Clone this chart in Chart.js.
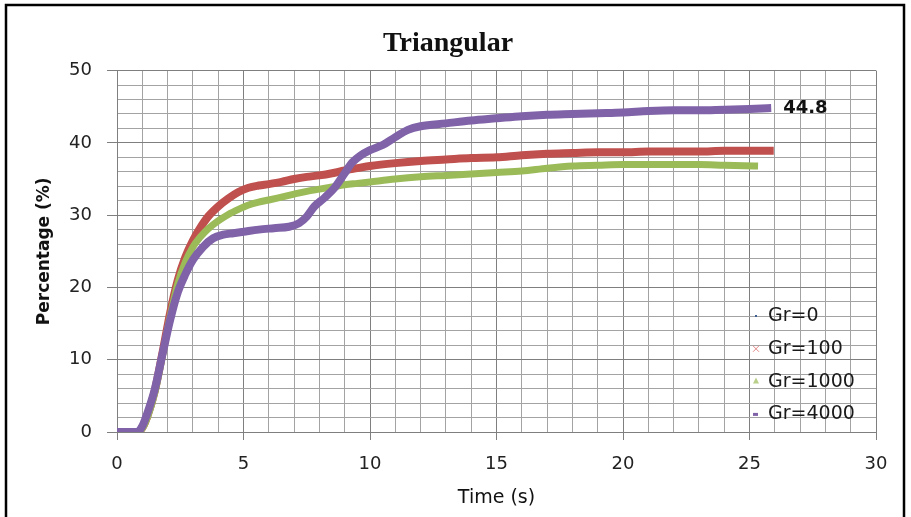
<!DOCTYPE html>
<html>
<head>
<meta charset="utf-8">
<script src="https://cdn.jsdelivr.net/npm/chart.js@4/dist/chart.umd.min.js"></script>
<style>
  body { margin: 0; background: #fff; }
  #wrap { width: 911px; height: 517px; position: relative; }
</style>
</head>
<body>
<div id="wrap"><canvas id="triangular" width="911" height="517"></canvas></div>
<script>
var seriesNames = ["Gr=0", "Gr=100", "Gr=1000", "Gr=4000"];
var seriesColors = ["#3d5f8f", "#c0504d", "#9bbb59", "#7f62a8"];

var timeGr0 = [0, 0.4, 0.8, 1.0, 1.2, 1.5, 1.8, 2.1, 2.4, 2.7, 3.0, 3.3, 3.6, 4.0, 4.4, 4.8, 5.2, 5.6, 6.0, 6.5, 7.0, 7.5, 8.0, 8.5, 9.0, 9.5, 10.0, 11.0, 12.0, 13.0, 14.0, 15.0, 16.0, 17.0, 18.0, 19.0, 20.0, 21.0, 22.0, 23.0, 24.0, 25.0, 25.8];
var valGr0 = [0, 0, 0, 0.7, 2.5, 6.2, 11.5, 17.0, 21.5, 24.6, 26.8, 28.5, 29.9, 31.2, 32.2, 33.0, 33.6, 34.0, 34.2, 34.5, 34.9, 35.2, 35.4, 35.7, 36.1, 36.4, 36.7, 37.1, 37.4, 37.6, 37.8, 38.0, 38.2, 38.4, 38.5, 38.6, 38.7, 38.7, 38.8, 38.8, 38.8, 38.9, 38.9];

var timeGr100 = [0, 0.4, 0.8, 1.0, 1.2, 1.5, 1.8, 2.1, 2.4, 2.7, 3.0, 3.3, 3.6, 4.0, 4.4, 4.8, 5.2, 5.6, 6.0, 6.5, 7.0, 7.5, 8.0, 8.5, 9.0, 9.5, 10.0, 11.0, 12.0, 13.0, 14.0, 15.0, 16.0, 17.0, 18.0, 19.0, 20.0, 21.0, 22.0, 23.0, 24.0, 25.0, 25.8];
var valGr100 = [0, 0, 0, 0.6, 2.2, 5.8, 11.0, 16.5, 21.0, 24.2, 26.5, 28.3, 29.8, 31.2, 32.3, 33.2, 33.8, 34.1, 34.3, 34.6, 35.0, 35.3, 35.5, 35.8, 36.2, 36.5, 36.8, 37.2, 37.5, 37.7, 37.9, 38.0, 38.3, 38.5, 38.6, 38.7, 38.7, 38.8, 38.8, 38.8, 38.9, 38.9, 38.9];

var timeGr1000 = [0, 0.4, 0.8, 1.0, 1.2, 1.5, 1.8, 2.1, 2.4, 2.7, 3.0, 3.3, 3.6, 4.0, 4.4, 4.8, 5.2, 5.6, 6.0, 6.5, 7.0, 7.5, 8.0, 8.5, 9.0, 9.5, 10.0, 11.0, 12.0, 13.0, 14.0, 15.0, 16.0, 17.0, 18.0, 19.0, 20.0, 21.0, 22.0, 23.0, 24.0, 25.2];
var valGr1000 = [0, 0, 0, 0.5, 2.0, 5.5, 10.6, 16.0, 20.5, 23.5, 25.6, 27.0, 28.1, 29.2, 30.1, 30.8, 31.4, 31.8, 32.1, 32.5, 32.9, 33.3, 33.6, 33.9, 34.2, 34.4, 34.6, 35.0, 35.3, 35.5, 35.7, 35.9, 36.1, 36.5, 36.8, 36.9, 37.0, 37.0, 37.0, 37.0, 36.9, 36.8];

var timeGr4000 = [0, 0.4, 0.8, 1.0, 1.2, 1.5, 1.8, 2.1, 2.4, 2.7, 3.0, 3.4, 3.8, 4.2, 4.6, 5.0, 5.6, 6.2, 6.8, 7.2, 7.5, 7.8, 8.2, 8.6, 9.0, 9.3, 9.6, 10.0, 10.5, 11.0, 11.5, 12.0, 13.0, 14.0, 15.0, 16.0, 17.0, 18.0, 19.0, 20.0, 21.0, 22.0, 23.0, 24.0, 25.0, 25.7];
var valGr4000 = [0, 0, 0, 0.8, 2.6, 6.0, 10.8, 15.5, 19.3, 21.8, 23.8, 25.6, 26.8, 27.3, 27.5, 27.7, 28.0, 28.2, 28.4, 28.9, 29.8, 31.2, 32.4, 33.8, 35.8, 37.3, 38.2, 39.0, 39.7, 40.8, 41.8, 42.3, 42.7, 43.1, 43.4, 43.7, 43.9, 44.0, 44.1, 44.2, 44.4, 44.5, 44.5, 44.6, 44.7, 44.8];

var endLabel = "44.8";

function toPoints(ts, vs) {
    var pts = [];
    for (var i = 0; i < ts.length; i++) pts.push({ x: ts[i], y: vs[i] });
    return pts;
}

function makeSet(idx, ts, vs, width, order) {
    return {
        label: seriesNames[idx],
        data: toPoints(ts, vs),
        borderColor: seriesColors[idx],
        backgroundColor: seriesColors[idx],
        borderWidth: width,
        pointRadius: 0,
        cubicInterpolationMode: "monotone",
        borderCapStyle: "square",
        order: order
    };
}

var majorGrid = "#7f7f7f";
var minorGrid = "#a3a3a3";

// outer frame, legend drawn inside the plot, end value label
var extras = {
    id: "extras",
    afterDraw: function(chart) {
        var ctx = chart.ctx;
        ctx.save();
        ctx.strokeStyle = "#000";
        ctx.lineWidth = 2.5;
        ctx.strokeRect(6, 5, 898, 530);

        var purple = chart.getDatasetMeta(3).data;
        var last = purple[purple.length - 1];
        ctx.fillStyle = "#111";
        ctx.font = "bold 18px 'DejaVu Sans'";
        ctx.textBaseline = "middle";
        ctx.textAlign = "left";
        ctx.fillText(endLabel, last.x + 16, last.y);

        var lx = 756, ly = 316, step = 32.8;
        ctx.font = "19px 'DejaVu Sans'";
        for (var i = 0; i < seriesNames.length; i++) {
            var y = ly + i * step;
            ctx.fillStyle = seriesColors[i];
            ctx.strokeStyle = seriesColors[i];
            if (i == 0) {
                ctx.fillRect(lx - 1, y - 1, 2, 2);
            } else if (i == 1) {
                ctx.lineWidth = 1;
                ctx.strokeStyle = "#e28a88";
                ctx.beginPath();
                ctx.moveTo(lx - 3, y - 3); ctx.lineTo(lx + 3, y + 3);
                ctx.moveTo(lx + 3, y - 3); ctx.lineTo(lx - 3, y + 3);
                ctx.stroke();
            } else if (i == 2) {
                ctx.fillStyle = "#b9cf8a";
                ctx.beginPath();
                ctx.moveTo(lx, y - 4); ctx.lineTo(lx + 3, y + 2); ctx.lineTo(lx - 3, y + 2);
                ctx.closePath();
                ctx.fill();
            } else {
                ctx.fillRect(lx - 3, y - 1.5, 5, 3);
            }
            ctx.fillStyle = "#1a1a1a";
            ctx.fillText(seriesNames[i], lx + 12, y);
        }
        ctx.restore();
    }
};

var ctx = document.getElementById("triangular").getContext("2d");

var triangularChart = new Chart(ctx, {
    type: "line",
    data: {
        datasets: [
            makeSet(0, timeGr0, valGr0, 3, 4),
            makeSet(1, timeGr100, valGr100, 8, 3),
            makeSet(2, timeGr1000, valGr1000, 7, 2),
            makeSet(3, timeGr4000, valGr4000, 8, 1)
        ]
    },
    options: {
        responsive: false,
        animation: false,
        layout: { padding: { left: 20, right: 35, top: 0, bottom: 0 } },
        plugins: {
            legend: { display: false },
            tooltip: { enabled: false },
            title: {
                display: true,
                text: "Triangular",
                color: "#111",
                font: { family: "'Liberation Serif'", size: 28, weight: "bold" },
                padding: { top: 27, bottom: 10 }
            }
        },
        scales: {
            x: {
                type: "linear",
                min: 0,
                max: 30,
                afterFit: function(scale) { scale.height = 85; },
                ticks: {
                    stepSize: 1,
                    autoSkip: false,
                    maxRotation: 0,
                    padding: 14,
                    color: "#222",
                    font: { family: "'DejaVu Sans'", size: 18 },
                    callback: function(v) { return v % 5 === 0 ? v : ""; }
                },
                grid: {
                    tickLength: 8,
                    color: function(c) { return c.tick && c.tick.value % 5 === 0 ? majorGrid : minorGrid; },
                    tickColor: function(c) { return c.tick && c.tick.value % 5 === 0 ? majorGrid : "rgba(0,0,0,0)"; }
                },
                border: { color: majorGrid },
                title: {
                    display: true,
                    text: "Time (s)",
                    color: "#111",
                    font: { family: "'DejaVu Sans'", size: 19 },
                    padding: { top: 4, bottom: 8 }
                }
            },
            y: {
                min: 0,
                max: 50,
                afterFit: function(scale) { scale.width = 97; },
                ticks: {
                    stepSize: 2,
                    autoSkip: false,
                    padding: 15,
                    color: "#222",
                    font: { family: "'DejaVu Sans'", size: 18 },
                    callback: function(v) { return v % 10 === 0 ? v : ""; }
                },
                grid: {
                    tickLength: 10,
                    color: function(c) { return c.tick && c.tick.value % 10 === 0 ? majorGrid : minorGrid; },
                    tickColor: function(c) { return c.tick && c.tick.value % 10 === 0 ? majorGrid : "rgba(0,0,0,0)"; }
                },
                border: { color: majorGrid },
                title: {
                    display: true,
                    text: "Percentage (%)",
                    color: "#111",
                    font: { family: "'DejaVu Sans'", size: 17, weight: "bold" },
                    padding: { top: 14, bottom: 4 }
                }
            }
        }
    },
    plugins: [extras]
});
</script>
</body>
</html>
